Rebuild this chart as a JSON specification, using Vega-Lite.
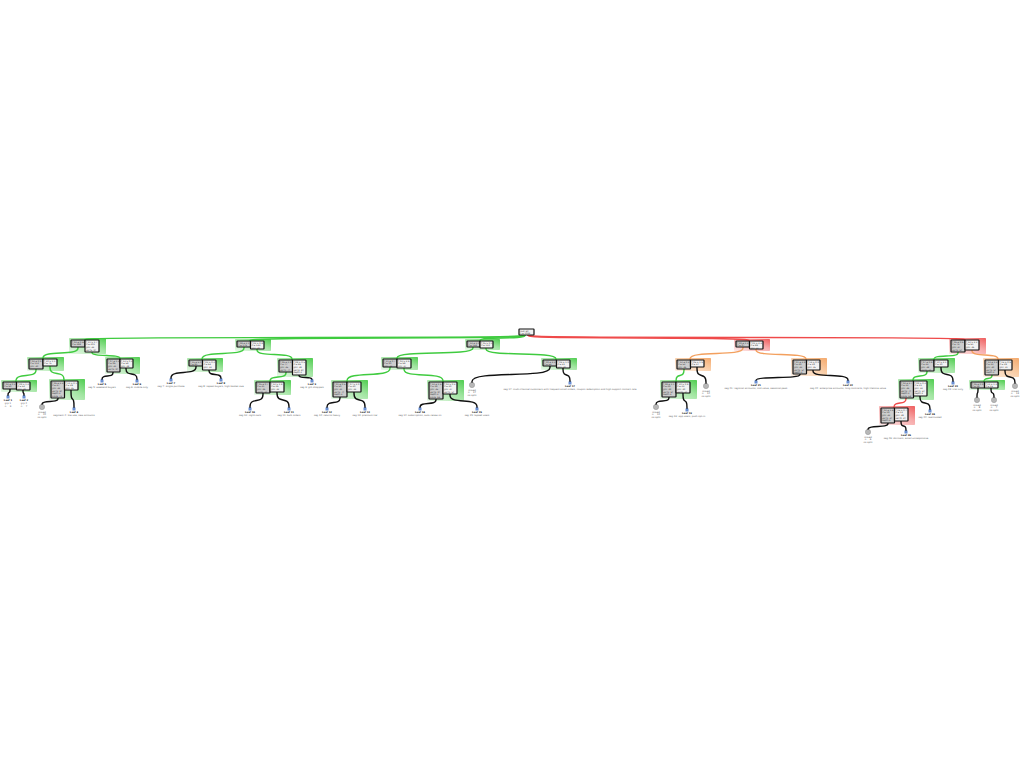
{
  "$schema": "https://vega.github.io/schema/vega-lite/v6.json",
  "width": 1024,
  "height": 768,
  "autosize": {"type": "fit", "contains": "padding"},
  "padding": 0,
  "background": "white",
  "config": {"view": {"stroke": null}, "font": "DejaVu Sans"},
  "datasets": {
    "shade": [
      {"x": 69, "x2": 106, "y": 338, "y2": 354, "c": "g"},
      {"x": 235, "x2": 271, "y": 339, "y2": 351, "c": "g"},
      {"x": 465, "x2": 500, "y": 339, "y2": 350, "c": "g"},
      {"x": 734, "x2": 770, "y": 339, "y2": 351, "c": "r"},
      {"x": 949, "x2": 986, "y": 338, "y2": 354, "c": "r"},
      {"x": 27, "x2": 64, "y": 357, "y2": 371, "c": "g"},
      {"x": 105, "x2": 140, "y": 357, "y2": 374, "c": "g"},
      {"x": 187, "x2": 223, "y": 358, "y2": 372, "c": "g"},
      {"x": 277, "x2": 313, "y": 358, "y2": 377, "c": "g"},
      {"x": 381, "x2": 418, "y": 357, "y2": 370, "c": "g"},
      {"x": 541, "x2": 577, "y": 358, "y2": 370, "c": "g"},
      {"x": 675, "x2": 711, "y": 358, "y2": 371, "c": "o"},
      {"x": 791, "x2": 827, "y": 358, "y2": 376, "c": "o"},
      {"x": 918, "x2": 955, "y": 358, "y2": 373, "c": "g"},
      {"x": 983, "x2": 1019, "y": 358, "y2": 377, "c": "o"},
      {"x": 1, "x2": 37, "y": 380, "y2": 392, "c": "g"},
      {"x": 49, "x2": 85, "y": 379, "y2": 400, "c": "g"},
      {"x": 254, "x2": 291, "y": 380, "y2": 395, "c": "g"},
      {"x": 331, "x2": 368, "y": 380, "y2": 399, "c": "g"},
      {"x": 427, "x2": 464, "y": 380, "y2": 401, "c": "g"},
      {"x": 660, "x2": 697, "y": 380, "y2": 399, "c": "g"},
      {"x": 898, "x2": 934, "y": 379, "y2": 400, "c": "g"},
      {"x": 879, "x2": 915, "y": 406, "y2": 425, "c": "r"},
      {"x": 969, "x2": 1005, "y": 380, "y2": 390, "c": "g"}
    ],
    "links": [
      {"id": "r-A", "c": "g", "xs": [524, 524, 85, 85], "ys": [335, 337.5, 337.5, 340]},
      {"id": "r-B", "c": "g", "xs": [525, 525, 250, 250], "ys": [335, 338, 338, 341]},
      {"id": "r-C", "c": "g", "xs": [525, 525, 480, 480], "ys": [335, 338, 338, 341]},
      {"id": "r-D", "c": "r", "xs": [528, 528, 749, 749], "ys": [335, 338, 338, 341]},
      {"id": "r-E", "c": "r", "xs": [528, 528, 965, 965], "ys": [335, 337.5, 337.5, 340]},
      {"id": "A-A1", "c": "g", "xs": [78, 78, 43, 43], "ys": [347, 353, 353, 359]},
      {"id": "A-A2", "c": "g", "xs": [92, 92, 120, 120], "ys": [352, 355.5, 355.5, 359]},
      {"id": "B-B1", "c": "g", "xs": [244, 244, 202, 202], "ys": [347, 353.5, 353.5, 360]},
      {"id": "B-B2", "c": "g", "xs": [257, 257, 292, 292], "ys": [349, 354.5, 354.5, 360]},
      {"id": "C-C1", "c": "g", "xs": [473, 473, 397, 397], "ys": [347, 353, 353, 359]},
      {"id": "C-C2", "c": "g", "xs": [486, 486, 556, 556], "ys": [348, 354, 354, 360]},
      {"id": "D-D1", "c": "o", "xs": [743, 743, 690, 690], "ys": [347, 353.5, 353.5, 360]},
      {"id": "D-D2", "c": "o", "xs": [756, 756, 806, 806], "ys": [349, 354.5, 354.5, 360]},
      {"id": "E-E1", "c": "g", "xs": [958, 958, 934, 934], "ys": [352, 356, 356, 360]},
      {"id": "E-E2", "c": "o", "xs": [972, 972, 998, 998], "ys": [350, 355, 355, 360]},
      {"id": "A1-A1a", "c": "g", "xs": [36, 36, 16, 16], "ys": [369, 375.5, 375.5, 382]},
      {"id": "A1-A1b", "c": "g", "xs": [50, 50, 64, 64], "ys": [366, 373.5, 373.5, 381]},
      {"id": "B2-B2a", "c": "g", "xs": [286, 286, 270, 270], "ys": [372, 377, 377, 382]},
      {"id": "C1-C1a", "c": "g", "xs": [390, 390, 347, 347], "ys": [367, 374.5, 374.5, 382]},
      {"id": "C1-C1b", "c": "g", "xs": [404, 404, 443, 443], "ys": [368, 375, 375, 382]},
      {"id": "D1-D1a", "c": "g", "xs": [684, 684, 676, 676], "ys": [369, 375.5, 375.5, 382]},
      {"id": "E1-E1a", "c": "g", "xs": [927, 927, 913, 913], "ys": [371, 376, 376, 381]},
      {"id": "E1a-E1a1", "c": "r", "xs": [906, 906, 894, 894], "ys": [398, 403, 403, 408]},
      {"id": "E2-E2a", "c": "g", "xs": [992, 992, 984, 984], "ys": [375, 378.5, 378.5, 382]},
      {"id": "l1", "c": "k", "xs": [10, 10, 8, 8], "ys": [389, 392.5, 392.5, 396]},
      {"id": "l2", "c": "k", "xs": [23, 23, 24, 24], "ys": [390, 393, 393, 396]},
      {"id": "l3", "c": "k", "xs": [58, 58, 42, 42], "ys": [398, 401.5, 401.5, 405]},
      {"id": "l4", "c": "k", "xs": [71, 71, 74, 74], "ys": [390, 399, 399, 408]},
      {"id": "l5", "c": "k", "xs": [113, 113, 102, 102], "ys": [372, 376, 376, 380]},
      {"id": "l6", "c": "k", "xs": [126, 126, 137, 137], "ys": [368, 374, 374, 380]},
      {"id": "l7", "c": "k", "xs": [196, 196, 171, 171], "ys": [366, 372.5, 372.5, 379]},
      {"id": "l8", "c": "k", "xs": [209, 209, 221, 221], "ys": [370, 374.5, 374.5, 379]},
      {"id": "l9", "c": "k", "xs": [299, 299, 312, 312], "ys": [375, 377.5, 377.5, 380]},
      {"id": "l10", "c": "k", "xs": [263, 263, 250, 250], "ys": [393, 400.5, 400.5, 408]},
      {"id": "l11", "c": "k", "xs": [277, 277, 289, 289], "ys": [392, 400, 400, 408]},
      {"id": "l12", "c": "k", "xs": [340, 340, 327, 327], "ys": [397, 402.5, 402.5, 408]},
      {"id": "l13", "c": "k", "xs": [354, 354, 365, 365], "ys": [392, 400, 400, 408]},
      {"id": "l14", "c": "k", "xs": [436, 436, 420, 420], "ys": [399, 403.5, 403.5, 408]},
      {"id": "l15", "c": "k", "xs": [450, 450, 477, 477], "ys": [394, 401, 401, 408]},
      {"id": "l16", "c": "k", "xs": [550, 550, 472, 472], "ys": [366, 374.5, 374.5, 383]},
      {"id": "l17", "c": "k", "xs": [563, 563, 570, 570], "ys": [368, 375, 375, 382]},
      {"id": "l18", "c": "k", "xs": [669, 669, 656, 656], "ys": [397, 401, 401, 405]},
      {"id": "l19", "c": "k", "xs": [683, 683, 687, 687], "ys": [393, 401, 401, 409]},
      {"id": "l20", "c": "k", "xs": [697, 697, 706, 706], "ys": [367, 375.5, 375.5, 384]},
      {"id": "l21", "c": "k", "xs": [800, 800, 756, 756], "ys": [374, 377.5, 377.5, 381]},
      {"id": "l22", "c": "k", "xs": [813, 813, 848, 848], "ys": [370, 375.5, 375.5, 381]},
      {"id": "l23", "c": "k", "xs": [941, 941, 953, 953], "ys": [367, 374.5, 374.5, 382]},
      {"id": "l24", "c": "k", "xs": [920, 920, 930, 930], "ys": [396, 403, 403, 410]},
      {"id": "l25", "c": "k", "xs": [888, 888, 868, 868], "ys": [423, 426.5, 426.5, 430]},
      {"id": "l26", "c": "k", "xs": [901, 901, 906, 906], "ys": [421, 426, 426, 431]},
      {"id": "l27", "c": "k", "xs": [1005, 1005, 1015, 1015], "ys": [370, 377, 377, 384]},
      {"id": "l28", "c": "k", "xs": [978, 978, 977, 977], "ys": [388, 393, 393, 398]},
      {"id": "l29", "c": "k", "xs": [991, 991, 994, 994], "ys": [388, 393, 393, 398]}
    ],
    "boxes": [
      {"x": 519, "x2": 534, "y": 329, "y2": 335, "s": "R", "t": "root: all\nn = 1024"},
      {"x": 71, "x2": 85, "y": 340, "y2": 347, "s": "L", "t": "f_03 ≤ 0.42\nn = 388"},
      {"x": 85, "x2": 99, "y": 340, "y2": 352, "s": "R", "t": "f_11 > 1.7\nn = 201\ngini .44\nval [5, 9]"},
      {"x": 237, "x2": 250.5, "y": 341, "y2": 347, "s": "L", "t": "f_08 ≤ 2.1\nn = 176"},
      {"x": 250.5, "x2": 264, "y": 341, "y2": 349, "s": "R", "t": "f_02 > 0.8\nn = 143\ngini .39"},
      {"x": 467, "x2": 480, "y": 341, "y2": 347, "s": "L", "t": "f_14 ≤ 3.0\nn = 158"},
      {"x": 480, "x2": 493, "y": 341, "y2": 348, "s": "R", "t": "f_05 > 0.1\nn = 122"},
      {"x": 736, "x2": 749.5, "y": 341, "y2": 347, "s": "L", "t": "f_09 ≤ 1.3\nn = 97"},
      {"x": 749.5, "x2": 763, "y": 341, "y2": 349, "s": "R", "t": "f_01 > 4.4\nn = 88\ngini .51"},
      {"x": 951, "x2": 965, "y": 340, "y2": 352, "s": "L", "t": "f_06 ≤ 0.6\nn = 74\ngini .47\nval [2, 6]"},
      {"x": 965, "x2": 979, "y": 340, "y2": 350, "s": "R", "t": "f_12 > 2.2\nn = 61\ngini .36"},
      {"x": 29, "x2": 43, "y": 359, "y2": 369, "s": "L", "t": "f_04 ≤ 0.9\nn = 112\ngini .40"},
      {"x": 43, "x2": 57, "y": 359, "y2": 366, "s": "R", "t": "f_10 > 1.1\nn = 75"},
      {"x": 107, "x2": 120, "y": 359, "y2": 372, "s": "L", "t": "f_07 ≤ 1.25\nn = 96\ngini .41\nval [3, 9]"},
      {"x": 120, "x2": 133, "y": 359, "y2": 368, "s": "R", "t": "f_13 > 0.3\nn = 58\ngini .28"},
      {"x": 189, "x2": 202.5, "y": 360, "y2": 366, "s": "L", "t": "f_15 ≤ 5.0\nn = 81"},
      {"x": 202.5, "x2": 216, "y": 360, "y2": 370, "s": "R", "t": "f_02 > 0.2\nn = 64\ngini .33"},
      {"x": 279, "x2": 292.5, "y": 360, "y2": 372, "s": "L", "t": "f_06 ≤ 1.9\nn = 77\ngini .45\nval [1, 7]"},
      {"x": 292.5, "x2": 306, "y": 360, "y2": 375, "s": "R", "t": "f_08 > 0.5\nn = 66\ngini .38\nval [4, 8]\ndepth 2"},
      {"x": 383, "x2": 397, "y": 359, "y2": 367, "s": "L", "t": "f_11 ≤ 0.7\nn = 90\ngini .42"},
      {"x": 397, "x2": 411, "y": 359, "y2": 368, "s": "R", "t": "f_03 > 2.6\nn = 68\ngini .37"},
      {"x": 543, "x2": 556.5, "y": 360, "y2": 366, "s": "L", "t": "f_09 ≤ 3.3\nn = 54"},
      {"x": 556.5, "x2": 570, "y": 360, "y2": 368, "s": "R", "t": "f_04 > 1.0\nn = 41\ngini .30"},
      {"x": 677, "x2": 690.5, "y": 360, "y2": 369, "s": "L", "t": "f_12 ≤ 0.4\nn = 52\ngini .46"},
      {"x": 690.5, "x2": 704, "y": 360, "y2": 367, "s": "R", "t": "f_05 > 1.6\nn = 37"},
      {"x": 793, "x2": 806.5, "y": 360, "y2": 374, "s": "L", "t": "f_01 ≤ 2.8\nn = 49\ngini .43\nval [2, 5]\ndepth 2"},
      {"x": 806.5, "x2": 820, "y": 360, "y2": 370, "s": "R", "t": "f_14 > 0.9\nn = 39\ngini .35"},
      {"x": 920, "x2": 934, "y": 360, "y2": 371, "s": "L", "t": "f_07 ≤ 0.8\nn = 44\ngini .48\nval [1, 4]"},
      {"x": 934, "x2": 948, "y": 360, "y2": 367, "s": "R", "t": "f_10 > 3.1\nn = 30"},
      {"x": 985, "x2": 998.5, "y": 360, "y2": 375, "s": "L", "t": "f_13 ≤ 1.4\nn = 33\ngini .40\nval [3, 6]\ndepth 2"},
      {"x": 998.5, "x2": 1012, "y": 360, "y2": 370, "s": "R", "t": "f_15 > 0.6\nn = 28\ngini .31"},
      {"x": 3, "x2": 16.5, "y": 382, "y2": 389, "s": "L", "t": "f_02 ≤ 0.3\nn = 60"},
      {"x": 16.5, "x2": 30, "y": 382, "y2": 390, "s": "R", "t": "f_09 > 1.2\nn = 52\ngini .29"},
      {"x": 51, "x2": 64.5, "y": 381, "y2": 398, "s": "L", "t": "f_06 ≤ 2.4\nn = 47\ngini .44\nval [2, 8]\ndepth 3\nscore .72"},
      {"x": 64.5, "x2": 78, "y": 381, "y2": 390, "s": "R", "t": "f_11 > 0.1\nn = 28\ngini .25"},
      {"x": 256, "x2": 270, "y": 382, "y2": 393, "s": "L", "t": "f_05 ≤ 0.7\nn = 41\ngini .36\nval [1, 3]"},
      {"x": 270, "x2": 284, "y": 382, "y2": 392, "s": "R", "t": "f_12 > 1.8\nn = 36\ngini .32"},
      {"x": 333, "x2": 347, "y": 382, "y2": 397, "s": "L", "t": "f_01 ≤ 0.5\nn = 50\ngini .41\nval [2, 7]\ndepth 3"},
      {"x": 347, "x2": 361, "y": 382, "y2": 392, "s": "R", "t": "f_07 > 2.0\nn = 40\ngini .34"},
      {"x": 429, "x2": 443, "y": 382, "y2": 399, "s": "L", "t": "f_14 ≤ 1.5\nn = 38\ngini .45\nval [3, 9]\ndepth 3\nscore .66"},
      {"x": 443, "x2": 457, "y": 382, "y2": 394, "s": "R", "t": "f_03 > 0.4\nn = 30\ngini .27\nval [1, 5]"},
      {"x": 662, "x2": 676, "y": 382, "y2": 397, "s": "L", "t": "f_08 ≤ 1.1\nn = 29\ngini .39\nval [2, 6]\ndepth 3"},
      {"x": 676, "x2": 690, "y": 382, "y2": 393, "s": "R", "t": "f_10 > 0.8\nn = 23\ngini .30\nval [1, 4]"},
      {"x": 900, "x2": 913.5, "y": 381, "y2": 398, "s": "L", "t": "f_04 ≤ 3.7\nn = 32\ngini .46\nval [2, 7]\ndepth 3\nscore .58"},
      {"x": 913.5, "x2": 927, "y": 381, "y2": 396, "s": "R", "t": "f_09 > 0.2\nn = 21\ngini .33\nval [1, 5]\ndepth 3"},
      {"x": 881, "x2": 894.5, "y": 408, "y2": 423, "s": "L", "t": "f_02 ≤ 1.6\nn = 19\ngini .42\nval [1, 4]\ndepth 4"},
      {"x": 894.5, "x2": 908, "y": 408, "y2": 421, "s": "R", "t": "f_15 > 0.7\nn = 13\ngini .28\nval [0, 3]"},
      {"x": 971, "x2": 984.5, "y": 382, "y2": 388, "s": "L", "t": "f_06 ≤ 0.9\nn = 18"},
      {"x": 984.5, "x2": 998, "y": 382, "y2": 388, "s": "R", "t": "f_11 > 1.3\nn = 15"}
    ],
    "leaves": [
      {"x": 8, "y": 397, "k": "b", "n": "Leaf 1", "t": "grp 1\nn = 9"},
      {"x": 24, "y": 397, "k": "b", "n": "Leaf 2", "t": "grp 2\nn = 7"},
      {"x": 42, "y": 407, "k": "g", "n": "Leaf 3", "t": "mixed\nn = 22\nno split"},
      {"x": 74, "y": 409, "k": "b", "n": "Leaf 4", "t": "segment 4: low use, new accounts"},
      {"x": 102, "y": 381, "k": "b", "n": "Leaf 5", "t": "seg 5: weekend buyers"},
      {"x": 137, "y": 381, "k": "b", "n": "Leaf 6", "t": "seg 6: mobile only"},
      {"x": 171, "y": 380, "k": "b", "n": "Leaf 7", "t": "seg 7: single purchase"},
      {"x": 221, "y": 380, "k": "b", "n": "Leaf 8", "t": "seg 8: repeat buyers, high basket size"},
      {"x": 312, "y": 381, "k": "b", "n": "Leaf 9", "t": "seg 9: gift shoppers"},
      {"x": 250, "y": 409, "k": "b", "n": "Leaf 10", "t": "seg 10: night owls"},
      {"x": 289, "y": 409, "k": "b", "n": "Leaf 11", "t": "seg 11: bulk orders"},
      {"x": 327, "y": 409, "k": "b", "n": "Leaf 12", "t": "seg 12: returns heavy"},
      {"x": 365, "y": 409, "k": "b", "n": "Leaf 13", "t": "seg 13: premium tier"},
      {"x": 420, "y": 409, "k": "b", "n": "Leaf 14", "t": "seg 14: subscription, auto-renew on"},
      {"x": 477, "y": 409, "k": "b", "n": "Leaf 15", "t": "seg 15: lapsed users"},
      {"x": 472, "y": 385, "k": "g", "n": "Leaf 16", "t": "mixed\nn = 17\nno split"},
      {"x": 570, "y": 383, "k": "b", "n": "Leaf 17", "t": "seg 17: multi-channel customers with frequent small orders, coupon redemption and high support contact rate"},
      {"x": 656, "y": 407, "k": "g", "n": "Leaf 18", "t": "mixed\nn = 12\nno split"},
      {"x": 687, "y": 410, "k": "b", "n": "Leaf 19", "t": "seg 19: app users, push opt-in"},
      {"x": 706, "y": 386, "k": "g", "n": "Leaf 20", "t": "mixed\nn = 14\nno split"},
      {"x": 756, "y": 382, "k": "b", "n": "Leaf 21", "t": "seg 21: regional accounts, mid value, seasonal peak"},
      {"x": 848, "y": 382, "k": "b", "n": "Leaf 22", "t": "seg 22: enterprise accounts, long contracts, high lifetime value"},
      {"x": 953, "y": 383, "k": "b", "n": "Leaf 23", "t": "seg 23: trial only"},
      {"x": 930, "y": 411, "k": "b", "n": "Leaf 24", "t": "seg 24: reactivated"},
      {"x": 868, "y": 432, "k": "g", "n": "Leaf 25", "t": "mixed\nn = 6\nno split"},
      {"x": 906, "y": 432, "k": "b", "n": "Leaf 26", "t": "seg 26: dormant, email unresponsive"},
      {"x": 1015, "y": 386, "k": "g", "n": "Leaf 27", "t": "mixed\nn = 13\nno split"},
      {"x": 977, "y": 400, "k": "g", "n": "Leaf 28", "t": "mixed\nn = 8\nno split"},
      {"x": 994, "y": 400, "k": "g", "n": "Leaf 29", "t": "mixed\nn = 7\nno split"}
    ]
  },
  "encoding": {
    "x": {"field": "x", "type": "quantitative", "axis": null, "scale": {"domain": [0, 1024], "nice": false, "zero": false}},
    "y": {"field": "y", "type": "quantitative", "axis": null, "scale": {"domain": [0, 768], "nice": false, "zero": false, "reverse": true}}
  },
  "layer": [
    {
      "data": {"name": "shade"},
      "transform": [{"filter": "datum.c == 'g'"}],
      "mark": {"type": "rect", "opacity": 0.85, "cornerRadius": 1,
        "fill": {"gradient": "linear", "x1": 0, "y1": 1, "x2": 1, "y2": 0,
          "stops": [{"offset": 0, "color": "#e6f8e6"}, {"offset": 0.6, "color": "#8fe08f"}, {"offset": 1, "color": "#2fc42f"}]}},
      "encoding": {"x2": {"field": "x2"}, "y2": {"field": "y2"}}
    },
    {
      "data": {"name": "shade"},
      "transform": [{"filter": "datum.c == 'o'"}],
      "mark": {"type": "rect", "opacity": 0.85, "cornerRadius": 1,
        "fill": {"gradient": "linear", "x1": 0, "y1": 1, "x2": 1, "y2": 0,
          "stops": [{"offset": 0, "color": "#fdf0e4"}, {"offset": 0.6, "color": "#f8c293"}, {"offset": 1, "color": "#f29a52"}]}},
      "encoding": {"x2": {"field": "x2"}, "y2": {"field": "y2"}}
    },
    {
      "data": {"name": "shade"},
      "transform": [{"filter": "datum.c == 'r'"}],
      "mark": {"type": "rect", "opacity": 0.85, "cornerRadius": 1,
        "fill": {"gradient": "linear", "x1": 0, "y1": 1, "x2": 1, "y2": 0,
          "stops": [{"offset": 0, "color": "#fde6e6"}, {"offset": 0.6, "color": "#f59a9a"}, {"offset": 1, "color": "#ec4040"}]}},
      "encoding": {"x2": {"field": "x2"}, "y2": {"field": "y2"}}
    },
    {
      "data": {"name": "links"},
      "transform": [{"flatten": ["xs", "ys"], "as": ["x", "y"]}, {"window": [{"op": "row_number", "as": "o"}], "groupby": ["id"]}],
      "mark": {"type": "line", "interpolate": "basis", "strokeWidth": 1.4},
      "encoding": {
        "detail": {"field": "id"},
        "order": {"field": "o", "type": "quantitative"},
        "color": {"field": "c", "type": "nominal", "legend": null,
          "scale": {"domain": ["g", "o", "r", "k"], "range": ["#3fcb3f", "#f3a05e", "#ef4a4a", "#111111"]}}
      }
    },
    {
      "data": {"name": "boxes"},
      "mark": {"type": "rect", "stroke": "#111111", "strokeWidth": 1.2, "cornerRadius": 0.5},
      "encoding": {
        "x2": {"field": "x2"}, "y2": {"field": "y2"},
        "fill": {"field": "s", "type": "nominal", "legend": null,
          "scale": {"domain": ["L", "R"], "range": ["#cdcdcd", "#f3f3f3"]}}
      }
    },
    {
      "data": {"name": "boxes"},
      "mark": {"type": "text", "align": "left", "baseline": "top", "fontSize": 2.2, "lineHeight": 2.6, "color": "#333333", "dx": 1, "dy": 0.8, "lineBreak": "\n"},
      "encoding": {"text": {"field": "t"}}
    },
    {
      "data": {"name": "leaves"},
      "transform": [{"filter": "datum.k == 'g'"}],
      "mark": {"type": "point", "shape": "circle", "filled": true, "size": 28, "color": "#9a9a9a", "stroke": "#555555", "strokeWidth": 0.4},
      "encoding": {}
    },
    {
      "data": {"name": "leaves"},
      "transform": [{"filter": "datum.k == 'b'"}],
      "mark": {"type": "point", "shape": "square", "filled": true, "size": 9, "color": "#2a5fc0"},
      "encoding": {}
    },
    {
      "data": {"name": "leaves"},
      "transform": [{"filter": "datum.k == 'b'"}],
      "mark": {"type": "text", "align": "center", "baseline": "top", "fontSize": 2.4, "fontWeight": "bold", "color": "#111111", "dy": 2.2},
      "encoding": {"text": {"field": "n"}}
    },
    {
      "data": {"name": "leaves"},
      "transform": [{"filter": "datum.k == 'b'"}],
      "mark": {"type": "text", "align": "center", "baseline": "top", "fontSize": 2.4, "lineHeight": 2.7, "color": "#666666", "dy": 5, "lineBreak": "\n"},
      "encoding": {"text": {"field": "t"}}
    },
    {
      "data": {"name": "leaves"},
      "transform": [{"filter": "datum.k == 'g'"}],
      "mark": {"type": "text", "align": "center", "baseline": "top", "fontSize": 2.4, "lineHeight": 2.7, "color": "#555555", "dy": 3.5, "lineBreak": "\n"},
      "encoding": {"text": {"field": "t"}}
    }
  ]
}
